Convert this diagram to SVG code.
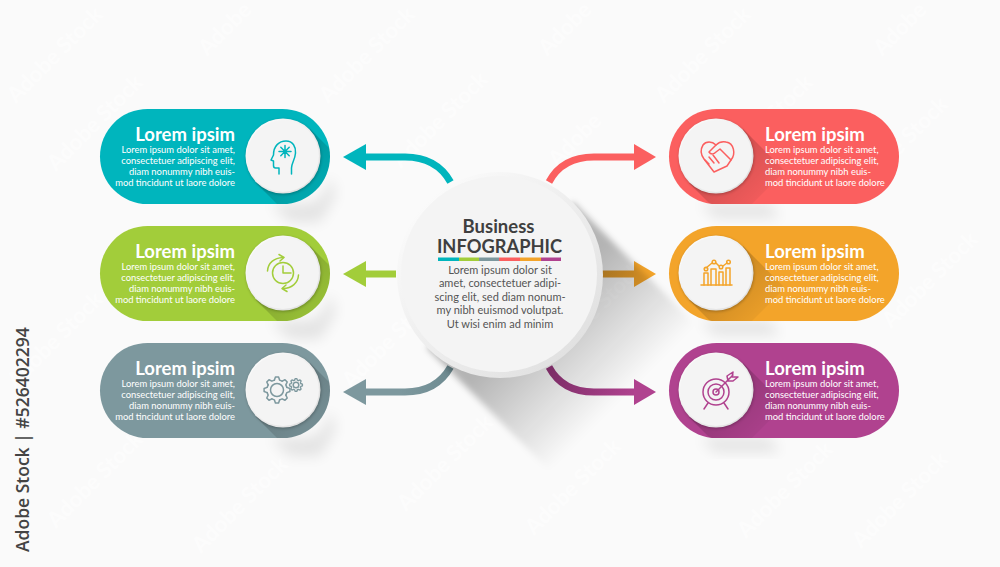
<svg xmlns="http://www.w3.org/2000/svg" width="1000" height="567" viewBox="0 0 1000 567">
<style>
text{font-family:"Lato","Liberation Sans",sans-serif}
.t{font-size:18.500px;font-weight:700;fill:#fff}
.b{font-size:9.400px;fill:#fff}
.e{text-anchor:end}
.ic{fill:none;stroke-width:1.5;stroke-linecap:round;stroke-linejoin:round}
.conn{fill:none;stroke-width:7}
.wm{font-size:22px;font-weight:700;fill:#fff;fill-opacity:.55;text-anchor:middle}
.mid{font-size:11px;fill:#555;text-anchor:middle}
</style>
<defs>
<linearGradient id="sh" x1="0" y1="0" x2="1" y2="1"><stop offset=".3" stop-color="#000" stop-opacity=".18"/><stop offset=".85" stop-color="#000" stop-opacity="0"/></linearGradient>
<linearGradient id="shBig" gradientUnits="userSpaceOnUse" x1="540" y1="310" x2="625" y2="395"><stop offset="0" stop-color="#000" stop-opacity=".28"/><stop offset="1" stop-color="#000" stop-opacity="0"/></linearGradient>
<linearGradient id="face" x1="0" y1="0" x2="1" y2="1"><stop offset="0" stop-color="#fff"/><stop offset="1" stop-color="#dcdcdc"/></linearGradient>
<linearGradient id="org" gradientUnits="userSpaceOnUse" x1="603" y1="0" x2="640" y2="0"><stop offset="0" stop-color="#e09a2c"/><stop offset="1" stop-color="#f3a42a"/></linearGradient>
<linearGradient id="gry" gradientUnits="userSpaceOnUse" x1="450" y1="367" x2="400" y2="392"><stop offset="0" stop-color="#6d8a90"/><stop offset="1" stop-color="#7d989e"/></linearGradient>
<linearGradient id="pur" gradientUnits="userSpaceOnUse" x1="548" y1="0" x2="640" y2="0"><stop offset="0" stop-color="#94367a"/><stop offset="1" stop-color="#b0428f"/></linearGradient>
<filter id="blur" x="-50%" y="-50%" width="200%" height="200%"><feGaussianBlur stdDeviation="7"/></filter>
<filter id="soft" x="-30%" y="-30%" width="160%" height="160%"><feGaussianBlur stdDeviation="1.600"/></filter>
<filter id="big" x="-30%" y="-30%" width="160%" height="160%"><feGaussianBlur stdDeviation="3"/></filter>
<clipPath id="pL"><rect x="100" y="109" width="230" height="95" rx="47.500"/></clipPath>
<clipPath id="pR"><rect x="669" y="109" width="230" height="95" rx="47.500"/></clipPath>
<path id="tooth" d="M9.850,-2.640 L12.900,-1.580 V1.580 L9.850,2.640 L8.830,5.100"/>
<g id="gear">
<use href="#tooth"/><use href="#tooth" transform="rotate(45)"/><use href="#tooth" transform="rotate(90)"/><use href="#tooth" transform="rotate(135)"/><use href="#tooth" transform="rotate(180)"/><use href="#tooth" transform="rotate(225)"/><use href="#tooth" transform="rotate(270)"/><use href="#tooth" transform="rotate(315)"/>
</g>
<g id="discL">
<path d="M256,183 L310,129 L352,171 L298,225Z" fill="url(#sh)" clip-path="url(#pL)"/>
<circle cx="283.500" cy="157" r="37.500" fill="#000" opacity=".25" filter="url(#soft)"/>
<circle cx="283" cy="156" r="37.500" fill="url(#face)"/>
<circle cx="283" cy="156" r="36" fill="#f4f4f4"/>
</g>
<g id="discR">
<path d="M689,183 L743,129 L785,171 L731,225Z" fill="url(#sh)" clip-path="url(#pR)"/>
<circle cx="716.500" cy="157" r="37.500" fill="#000" opacity=".25" filter="url(#soft)"/>
<circle cx="716" cy="156" r="37.500" fill="url(#face)"/>
<circle cx="716" cy="156" r="36" fill="#f4f4f4"/>
</g>
<path id="shadeL" d="M270,204 H305 Q325,204 330,175 L336,195 L320,222 H290Z" fill="#000" opacity=".09" filter="url(#blur)"/>
<path id="shadeR" d="M700,204 H770 L780,218 H715Z" fill="#000" opacity=".09" filter="url(#blur)"/>
</defs>
<rect width="1000" height="567" fill="#fafafa"/>
<g id="watermark">
<text class="wm" transform="translate(60,60) rotate(-45)">Adobe Stock</text>
<text class="wm" transform="translate(230,34) rotate(-45)">Adobe</text>
<text class="wm" transform="translate(372,60) rotate(-45)">Adobe Stock</text>
<text class="wm" transform="translate(570,34) rotate(-45)">Adobe</text>
<text class="wm" transform="translate(708,60) rotate(-45)">Adobe Stock</text>
<text class="wm" transform="translate(905,34) rotate(-45)">Adobe</text>
<text class="wm" transform="translate(100,128) rotate(-45)">Adobe Stock</text>
<text class="wm" transform="translate(445,125) rotate(-45)">Adobe Stock</text>
<text class="wm" transform="translate(580,145) rotate(-45)">Adobe</text>
<text class="wm" transform="translate(770,128) rotate(-45)">Adobe Stock</text>
<text class="wm" transform="translate(905,150) rotate(-45)">Adobe Stock</text>
<text class="wm" transform="translate(60,345) rotate(-45)">Adobe Stock</text>
<text class="wm" transform="translate(395,345) rotate(-45)">Adobe Stock</text>
<text class="wm" transform="translate(600,315) rotate(-45)">Adobe Stock</text>
<text class="wm" transform="translate(935,285) rotate(-45)">Adobe Stock</text>
<text class="wm" transform="translate(100,485) rotate(-45)">Adobe Stock</text>
<text class="wm" transform="translate(245,510) rotate(-45)">Adobe Stock</text>
<text class="wm" transform="translate(450,468) rotate(-45)">Adobe Stock</text>
<text class="wm" transform="translate(578,492) rotate(-45)">Adobe Stock</text>
<text class="wm" transform="translate(790,495) rotate(-45)">Adobe Stock</text>
<text class="wm" transform="translate(905,505) rotate(-45)">Adobe Stock</text>
</g>
<text id="stock-label" transform="translate(29,552) rotate(-90)" font-size="17.500" font-weight="600" fill="#444" style="font-family:'Open Sans',sans-serif">Adobe Stock | #526402294</text>

<g id="connectors">
<path class="conn" stroke="#00b5bd" d="M450.500,182 C441,165 425,157 405,157 L362,157"/>
<path fill="#00b5bd" d="M343,157 L366,144 V170Z"/>
<path class="conn" stroke="#a2cd3a" d="M396,274 H362"/>
<path fill="#a2cd3a" d="M343,274 L366,261 V287Z"/>
<path class="conn" stroke="url(#gry)" d="M450.500,367 C441,384 425,392 405,392 L362,392"/>
<path fill="#7d989e" d="M343,392 L366,379 V405Z"/>
<path class="conn" stroke="#fb5f5f" d="M549,182 C558,165 574,157 594,157 L637,157"/>
<path fill="#fb5f5f" d="M656,157 L634,144 V170Z"/>
<path class="conn" stroke="url(#org)" d="M600,274 H637"/>
<path fill="#f3a42a" d="M656,274 L634,261 V287Z"/>
<path class="conn" stroke="url(#pur)" d="M549,367 C558,384 574,392 594,392 L637,392"/>
<path fill="#b0428f" d="M656,392 L634,379 V405Z"/>
</g>

<g id="node-1">
<use href="#shadeL"/>
<rect x="100" y="109" width="230" height="95" rx="47.500" fill="#00b5bd"/>
<use href="#discL"/>
<text class="t e" x="235" y="141">Lorem ipsim</text>
<text class="b e"><tspan x="235" y="153">Lorem ipsum dolor sit amet,</tspan><tspan x="235" y="164">consectetuer adipiscing elit,</tspan><tspan x="235" y="175">diam nonummy nibh euis-</tspan><tspan x="235" y="186">mod tincidunt ut laore dolore</tspan></text>
<g class="ic" stroke="#00b5bd">
<path d="M279,174 V168 H275.500 Q273.500,168 273.500,165.500 V161 L271,160 L273.500,155 C273.500,146 279,141 286,141 C293,141 296,147 295.500,153 C295,160 291.500,163 291.500,168 V174"/>
<path d="M285,145.500 V157.500 M279,151.500 H291 M280.800,147.300 L289.200,155.700 M289.200,147.300 L280.800,155.700"/>
</g>
</g>

<g id="node-2" transform="translate(0,117)">
<use href="#shadeL"/>
<rect x="100" y="109" width="230" height="95" rx="47.500" fill="#a2cd3a"/>
<use href="#discL"/>
<text class="t e" x="235" y="141">Lorem ipsim</text>
<text class="b e"><tspan x="235" y="153">Lorem ipsum dolor sit amet,</tspan><tspan x="235" y="164">consectetuer adipiscing elit,</tspan><tspan x="235" y="175">diam nonummy nibh euis-</tspan><tspan x="235" y="186">mod tincidunt ut laore dolore</tspan></text>
<g class="ic" stroke="#a2cd3a">
<circle cx="283" cy="156" r="10.500"/>
<path d="M283,149 V156 H291"/>
<path d="M267.500,154 C268,146 274,141 283,140.500"/>
<path d="M279,137.500 L284,140.500 L280,144"/>
<path d="M298.500,158 C298,166 292,171 283,171.500"/>
<path d="M287,174.500 L282,171.500 L286,168"/>
</g>
</g>

<g id="node-3" transform="translate(0,234)">
<use href="#shadeL"/>
<rect x="100" y="109" width="230" height="95" rx="47.500" fill="#7d989e"/>
<use href="#discL"/>
<text class="t e" x="235" y="141">Lorem ipsim</text>
<text class="b e"><tspan x="235" y="153">Lorem ipsum dolor sit amet,</tspan><tspan x="235" y="164">consectetuer adipiscing elit,</tspan><tspan x="235" y="175">diam nonummy nibh euis-</tspan><tspan x="235" y="186">mod tincidunt ut laore dolore</tspan></text>
<g class="ic" stroke="#7d989e">
<use href="#gear" transform="translate(277,156)"/>
<circle cx="277" cy="156" r="6.500"/>
<use href="#gear" transform="translate(296,151) scale(.5)" stroke-width="2.600"/>
<circle cx="296" cy="151" r="2.800"/>
</g>
</g>

<g id="node-4">
<use href="#shadeR"/>
<rect x="669" y="109" width="230" height="95" rx="47.500" fill="#fb5f5f"/>
<use href="#discR"/>
<text class="t" x="765" y="141">Lorem ipsim</text>
<text class="b"><tspan x="765" y="153">Lorem ipsum dolor sit amet,</tspan><tspan x="765" y="164">consectetuer adipiscing elit,</tspan><tspan x="765" y="175">diam nonummy nibh euis-</tspan><tspan x="765" y="186">mod tincidunt ut laore dolore</tspan></text>
<g class="ic" stroke="#fb5f5f">
<path d="M714,172 L727,166 L731,160 C736,154 734,143 726,142 C721,141 718,143 716,145 C712,141 706,141 703,145 C700,150 701,155 704,159 L714,172Z"/>
<path d="M716,145 L709,152 C711,155 714,154 716,152 L720,149 L731,160"/>
<path d="M705,160 L709,164 M709,157 L714,163 M713,155 L719,163"/>
</g>
</g>

<g id="node-5" transform="translate(0,117)">
<use href="#shadeR"/>
<rect x="669" y="109" width="230" height="95" rx="47.500" fill="#f3a42a"/>
<use href="#discR"/>
<text class="t" x="765" y="141">Lorem ipsim</text>
<text class="b"><tspan x="765" y="153">Lorem ipsum dolor sit amet,</tspan><tspan x="765" y="164">consectetuer adipiscing elit,</tspan><tspan x="765" y="175">diam nonummy nibh euis-</tspan><tspan x="765" y="186">mod tincidunt ut laore dolore</tspan></text>
<g class="ic" stroke="#f3a42a">
<path d="M701,168 H732"/>
<path d="M704,168 V156 H708 V168 M711,168 V152 H716 V168 M719,168 V155 H723 V168 M726,168 V151 H730 V168"/>
<path d="M706,151 L712,146 M716,146 L719,149 M723,149 L727,146"/>
<circle cx="706" cy="152" r="1.800"/><circle cx="714" cy="145" r="1.800"/><circle cx="721" cy="150" r="1.800"/><circle cx="728.500" cy="145" r="1.800"/>
</g>
</g>

<g id="node-6" transform="translate(0,234)">
<use href="#shadeR"/>
<rect x="669" y="109" width="230" height="95" rx="47.500" fill="#b0428f"/>
<use href="#discR"/>
<text class="t" x="765" y="141">Lorem ipsim</text>
<text class="b"><tspan x="765" y="153">Lorem ipsum dolor sit amet,</tspan><tspan x="765" y="164">consectetuer adipiscing elit,</tspan><tspan x="765" y="175">diam nonummy nibh euis-</tspan><tspan x="765" y="186">mod tincidunt ut laore dolore</tspan></text>
<g class="ic" stroke="#b0428f">
<circle cx="716" cy="158" r="13"/><circle cx="716" cy="158" r="8"/><circle cx="716" cy="158" r="3"/>
<path d="M716,158 L733,141 M727,142 L733,138 L732,143 L738,143 L733,147 L728,147Z"/>
<path d="M708,169 L704,175 M724,169 L728,175"/>
</g>
</g>

<g id="node-center">
<path d="M573,202 L703,332 L557,478 L427,348 Z" fill="url(#shBig)" filter="url(#big)"/>
<circle cx="500" cy="275" r="103" fill="url(#face)"/>
<circle cx="499" cy="274" r="98" fill="#f4f4f4"/>
<text x="498.500" y="233" text-anchor="middle" font-size="18.500" font-weight="700" fill="#3f3f3f">Business</text>
<text x="499.500" y="252.500" text-anchor="middle" font-size="18.300" font-weight="700" fill="#3f3f3f">INFOGRAPHIC</text>
<rect x="438" y="257.500" width="21" height="3.500" fill="#00b5bd"/>
<rect x="459" y="257.500" width="20" height="3.500" fill="#a2cd3a"/>
<rect x="479" y="257.500" width="20" height="3.500" fill="#7d989e"/>
<rect x="499" y="257.500" width="21" height="3.500" fill="#fb5f5f"/>
<rect x="520" y="257.500" width="21" height="3.500" fill="#f3a42a"/>
<rect x="541" y="257.500" width="20" height="3.500" fill="#b0428f"/>
<text class="mid" x="500" y="273.500">Lorem ipsum dolor sit</text>
<text class="mid" x="500" y="287">amet, consectetuer adipi-</text>
<text class="mid" x="500" y="300.500">scing elit, sed diam nonum-</text>
<text class="mid" x="500" y="314">my nibh euismod volutpat.</text>
<text class="mid" x="500" y="327.500">Ut wisi enim ad minim</text>
</g>
</svg>
